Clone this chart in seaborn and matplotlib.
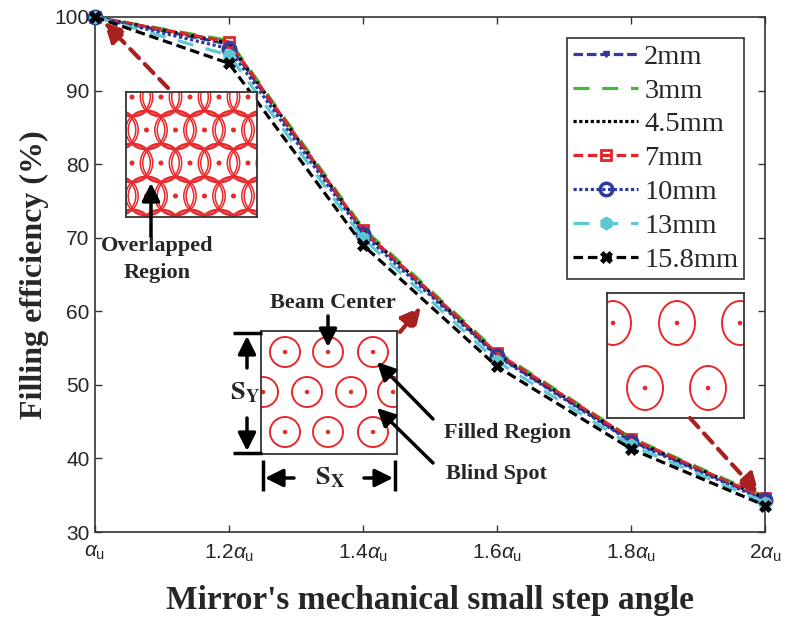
import numpy as np
import pandas as pd
import matplotlib
matplotlib.use("Agg")
import matplotlib.pyplot as plt
from matplotlib.patches import Circle, Ellipse
import seaborn as sns

# ---- data -------------------------------------------------------------
step_angle = [1.0, 1.2, 1.4, 1.6, 1.8, 2.0]
tick_labels = [r"$\alpha_{\mathrm{u}}$", r"$1.2\alpha_{\mathrm{u}}$", r"$1.4\alpha_{\mathrm{u}}$",
               r"$1.6\alpha_{\mathrm{u}}$", r"$1.8\alpha_{\mathrm{u}}$", r"$2\alpha_{\mathrm{u}}$"]
beam_sizes = ["2mm", "3mm", "4.5mm", "7mm", "10mm", "13mm", "15.8mm"]
eff_2mm = [100, 96.3, 70.9, 54.0, 42.4, 34.5]
eff_3mm = [100, 96.8, 71.3, 54.5, 42.8, 34.8]
eff_4p5mm = [100, 96.5, 71.0, 54.2, 42.6, 34.6]
eff_7mm = [100, 96.6, 71.0, 54.3, 42.7, 34.6]
eff_10mm = [100, 95.7, 70.5, 53.9, 42.3, 34.3]
eff_13mm = [100, 94.8, 69.9, 53.2, 41.8, 34.0]
eff_15p8mm = [100, 93.7, 69.0, 52.5, 41.3, 33.6]
series = [eff_2mm, eff_3mm, eff_4p5mm, eff_7mm, eff_10mm, eff_13mm, eff_15p8mm]

df = pd.DataFrame({
    "angle": np.tile(step_angle, len(beam_sizes)),
    "eff": np.concatenate(series),
    "beam": np.repeat(beam_sizes, len(step_angle)),
})

# ---- style ------------------------------------------------------------
sns.set_theme(style="ticks", rc={"xtick.direction": "in", "ytick.direction": "in"})
plt.rcParams["font.family"] = ["Liberation Sans", "DejaVu Sans"]
plt.rcParams["mathtext.fontset"] = "custom"
plt.rcParams["mathtext.rm"] = "Liberation Sans"
plt.rcParams["mathtext.it"] = "Liberation Sans:italic"

W, H = 787, 627
fig = plt.figure(figsize=(W / 100, H / 100), dpi=100)
ax = fig.add_axes([95 / W, (H - 532) / H, (765 - 95) / W, (532 - 17) / H])

styles = {
    "2mm":    dict(color="#2f3c9e", dashes=(3, 1.2), marker="v", markersize=4, mfc="#2f3c9e"),
    "3mm":    dict(color="#45b83a", dashes=(5, 4), marker=None),
    "4.5mm":  dict(color="black", dashes=(1, 0.8), marker=None),
    "7mm":    dict(color="#e0262b", dashes=(3, 1.5), marker="s", markersize=7, mfc="none", mew=2),
    "10mm":   dict(color="#2f3c9e", dashes=(1, 0.8), marker="o", markersize=9, mfc="none", mew=2.5),
    "13mm":   dict(color="#5bc8d4", dashes=(5, 4), marker="h", markersize=9, mfc="#5bc8d4"),
    "15.8mm": dict(color="black", dashes=(3, 1.5), marker="X", markersize=8, mfc="black", mew=0.5),
}
for b in beam_sizes:
    st = styles[b]
    kw = dict(color=st["color"], lw=2.3, dashes=st["dashes"])
    if st.get("marker"):
        kw.update(marker=st["marker"], markersize=st["markersize"],
                  markerfacecolor=st["mfc"], markeredgecolor=st["color"],
                  markeredgewidth=st.get("mew", 1))
    sub = df[df["beam"] == b]
    sns.lineplot(data=sub, x="angle", y="eff", ax=ax, label=b, clip_on=False, zorder=3, **kw)

ax.set_xlim(1.0, 2.0)
ax.set_ylim(30, 100)
ax.set_xticks(step_angle)
ax.set_xticklabels(tick_labels)
ax.set_yticks(range(30, 101, 10))
ax.tick_params(axis="both", labelsize=15, length=5, width=1, color="#333333",
               top=True, right=True)
ax.tick_params(axis="x", pad=8)
ax.tick_params(axis="y", pad=4)
for s in ax.spines.values():
    s.set_linewidth(1.2)
    s.set_color("#333333")

ax.set_xlabel("Mirror's mechanical small step angle", fontsize=24, fontweight="bold",
              family="Liberation Serif", labelpad=15)
ax.set_ylabel("Filling efficiency (%)", fontsize=23, fontweight="bold",
              family="Liberation Serif", labelpad=4)

leg = ax.legend(loc="upper right", bbox_to_anchor=(744 / W, 1 - 38 / H),
                bbox_transform=fig.transFigure, borderaxespad=0, frameon=True,
                fancybox=False, framealpha=1, edgecolor="#333333",
                prop={"family": "Liberation Serif", "size": 20.5},
                handlelength=2.3, handletextpad=0.2, labelspacing=0.28, borderpad=0.2)
leg.get_frame().set_linewidth(1.2)

# ---- schematic insets ---------------------------------------------------
RED = "#e8282b"


def inset(x0, y0, x1, y1):
    a = fig.add_axes([x0 / W, (H - y1) / H, (x1 - x0) / W, (y1 - y0) / H])
    a.set_xlim(0, x1 - x0)
    a.set_ylim(y1 - y0, 0)
    a.set_xticks([])
    a.set_yticks([])
    for s in a.spines.values():
        s.set_linewidth(1.3)
        s.set_color("#333333")
    a.set_facecolor("white")
    return a


# overlapping beams
a1 = inset(126, 92, 257, 217)
for r, yy in enumerate(np.arange(-28, 150, 33)):
    off = 14.5 if r % 2 == 0 else 0
    for xx in np.arange(-23 + off, 170, 29):
        for dx in (-1.2, 1.2):
            a1.add_patch(Circle((xx + dx, yy), 19.5, fill=False, ec=RED, lw=1.1))
        a1.add_patch(Circle((xx, yy), 1.8, color=RED))

# touching beams with blind spots
a2 = inset(261, 331, 397, 454)
for yy, xs in [(21, [24, 67, 112]), (61, [2, 46, 90, 132]), (101, [24, 67, 112])]:
    for xx in xs:
        a2.add_patch(Circle((xx, yy), 15, fill=False, ec=RED, lw=1.4))
        a2.add_patch(Circle((xx, yy), 1.5, color=RED))

# sparse beams
a3 = inset(607, 293, 744, 418)
for yy, xs in [(30, [6, 70, 133]), (95, [38, 101])]:
    for xx in xs:
        a3.add_patch(Ellipse((xx, yy), 36, 44, fill=False, ec=RED, lw=1.4))
        a3.add_patch(Circle((xx, yy), 1.6, color=RED))

# ---- annotation layer on top of everything (pixel units, origin top-left) ----
ov = fig.add_axes([0, 0, 1, 1], facecolor="none")
ov.set_xlim(0, W)
ov.set_ylim(H, 0)
ov.axis("off")


def arrow(x0, y0, x1, y1, color="black", lw=2.5, ls="-", hw=0.45, hl=0.9):
    ov.annotate("", xy=(x1, y1), xytext=(x0, y0), annotation_clip=False,
                arrowprops=dict(arrowstyle=f"-|>,head_length={hl},head_width={hw}",
                                color=color, lw=lw, linestyle=ls,
                                shrinkA=0, shrinkB=0, mutation_scale=12))


def label(x, y, s, size=16):
    ov.text(x, y, s, ha="center", va="center", fontsize=size,
            fontweight="bold", family="Liberation Serif")


DRED = "#a8201f"
arrow(168, 88, 104, 22, color=DRED, lw=3, ls=(0, (3, 2)), hw=0.5, hl=1.0)
arrow(400, 332, 421, 307, color=DRED, lw=3, ls=(0, (3, 2)), hw=0.5, hl=1.0)
arrow(690, 418, 759, 494, color=DRED, lw=3, ls=(0, (3, 2)), hw=0.5, hl=1.0)

label(157, 246, "Overlapped")
label(157, 273, "Region")
arrow(151, 236, 151, 183)

label(333, 303, "Beam Center")
arrow(328, 316, 328, 347)
label(507, 433, "Filled Region")
arrow(433, 419, 377, 362)
label(497, 474, "Blind Spot")
arrow(433, 463, 377, 408)

# S_Y span marker
for yy in (333, 453):
    ov.plot([233, 262], [yy, yy], color="black", lw=2.5, solid_capstyle="butt")
arrow(247, 368, 247, 336)
arrow(247, 418, 247, 451)
ov.text(245, 393, r"$\mathbf{S}_{\mathbf{Y}}$", ha="center", va="center",
        fontsize=19, math_fontfamily="stix")

# S_X span marker
for xx in (263, 395):
    ov.plot([xx, xx], [460, 491], color="black", lw=2.5, solid_capstyle="butt")
arrow(294, 478, 265, 478)
arrow(364, 478, 393, 478)
ov.text(330, 478, r"$\mathbf{S}_{\mathbf{X}}$", ha="center", va="center",
        fontsize=19, math_fontfamily="stix")

fig.savefig("out.png", dpi=100)
